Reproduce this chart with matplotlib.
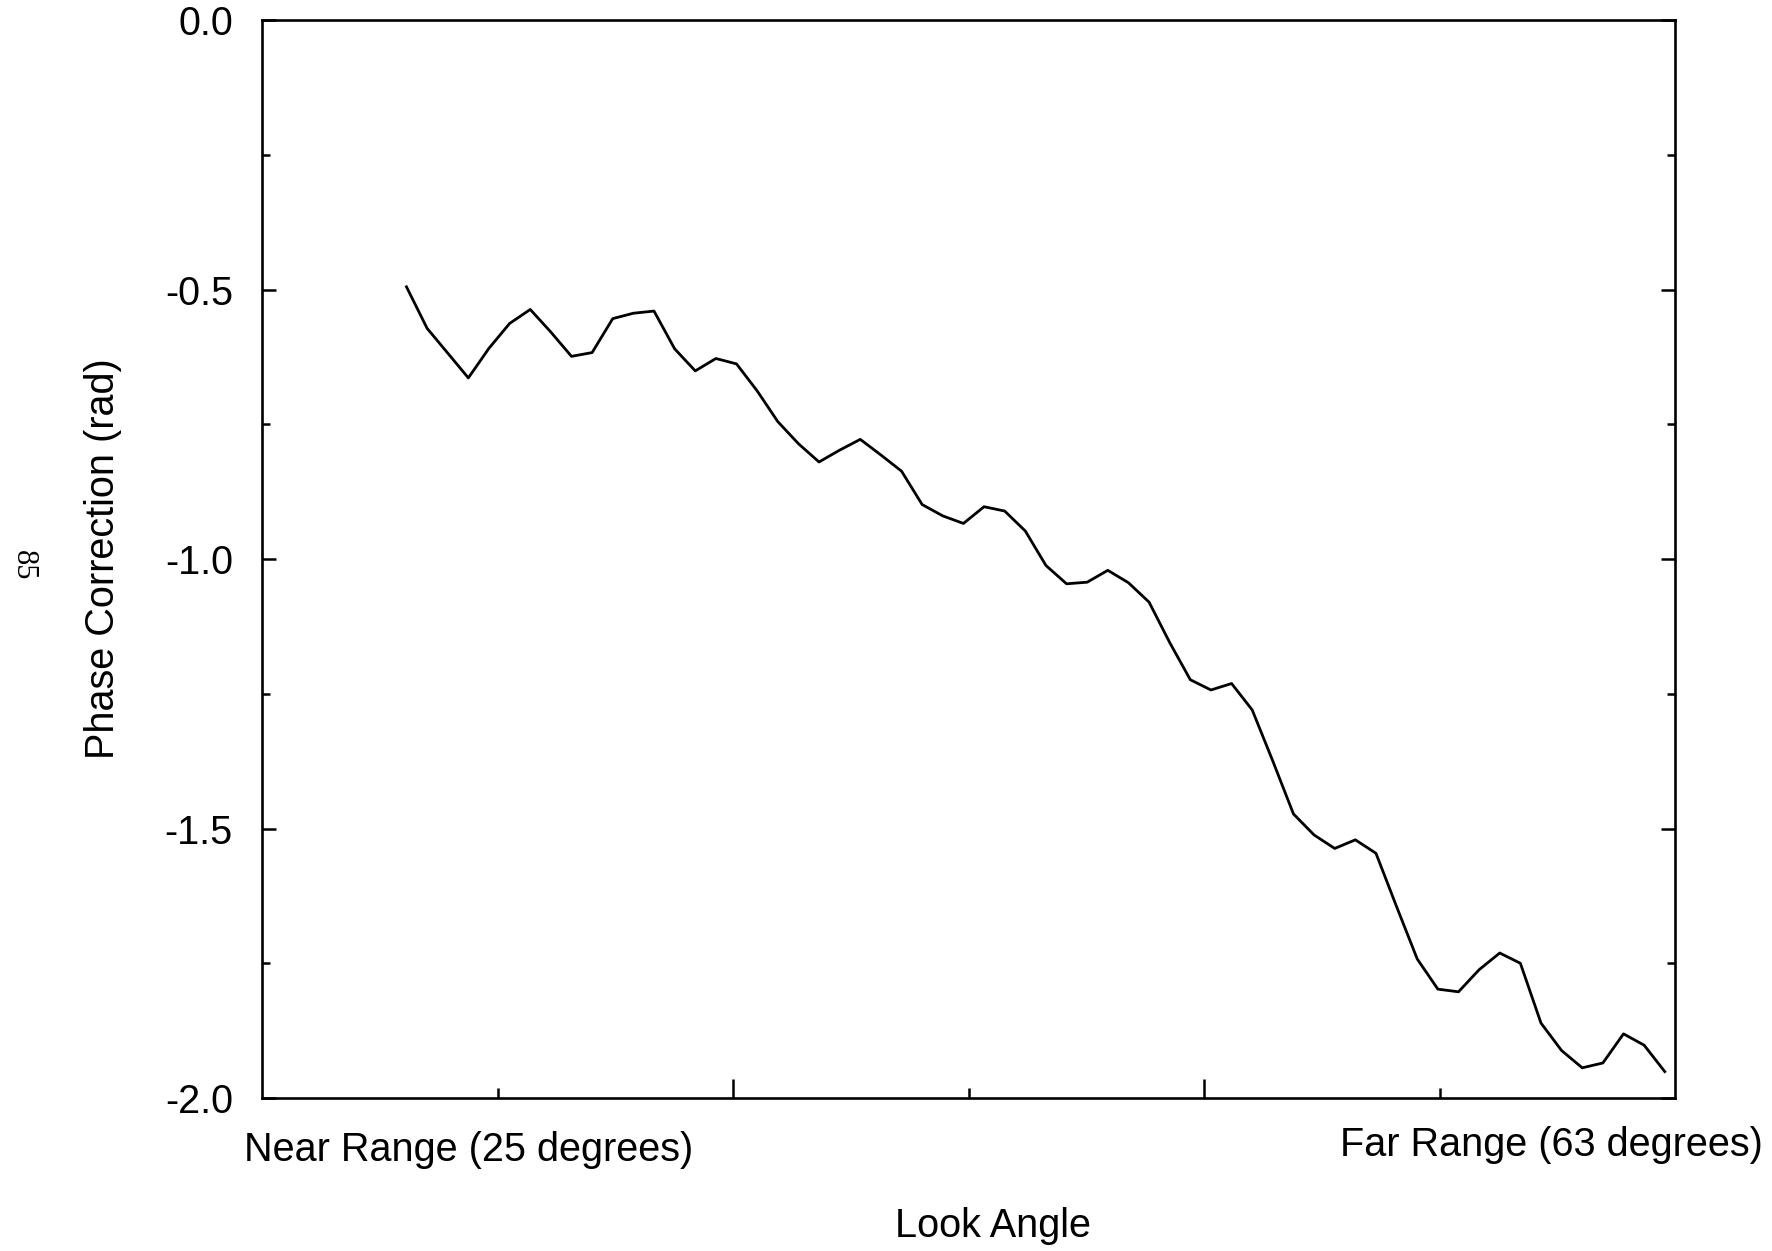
import numpy as np
import matplotlib.pyplot as plt
from matplotlib.ticker import FixedLocator, NullFormatter

plt.rcParams['font.family'] = ['Liberation Sans', 'DejaVu Sans']
plt.rcParams['axes.unicode_minus'] = False

# phase correction per range sample, near range first
phase_rad = [
    -0.495, -0.572, -0.618, -0.664, -0.609, -0.563, -0.537, -0.579,
    -0.624, -0.617, -0.554, -0.544, -0.540, -0.610, -0.651, -0.628,
    -0.638, -0.688, -0.745, -0.786, -0.820, -0.798, -0.778, -0.807,
    -0.837, -0.899, -0.920, -0.934, -0.903, -0.911, -0.948, -1.012,
    -1.046, -1.043, -1.021, -1.044, -1.080, -1.155, -1.224, -1.243,
    -1.231, -1.280, -1.375, -1.473, -1.512, -1.537, -1.521, -1.546,
    -1.645, -1.742, -1.798, -1.803, -1.762, -1.731, -1.750, -1.861,
    -1.912, -1.944, -1.935, -1.881, -1.902, -1.951,
]

y_major = [0.0, -0.5, -1.0, -1.5, -2.0]
y_labels = ['0.0', '-0.5', '-1.0', '-1.5', '-2.0']
y_minor = [-0.25, -0.75, -1.25, -1.75]

near_label = 'Near Range (25 degrees)'
far_label = 'Far Range (63 degrees)'

# swath edges in sample units (samples start a bit inside near range)
x_lo, x_hi = -7.0, 61.5

fig = plt.figure(figsize=(17.72, 12.51), dpi=100)
ax = fig.add_axes([0.1479, 0.1223, 0.7974, 0.8617])

ax.plot(phase_rad, color='black', lw=2.0)

ax.set_xlim(x_lo, x_hi)
ax.set_ylim(-2.0, 0.0)

# look angle axis split in sixths, long ticks on every third
div = np.linspace(x_lo, x_hi, 7)[1:-1]
ax.xaxis.set_major_locator(FixedLocator(div[1::2]))
ax.xaxis.set_minor_locator(FixedLocator(div[0::2]))
ax.xaxis.set_major_formatter(NullFormatter())

ax.yaxis.set_major_locator(FixedLocator(y_major))
ax.yaxis.set_minor_locator(FixedLocator(y_minor))
ax.set_yticklabels(y_labels)

ax.tick_params(axis='y', which='both', direction='in', left=True, right=True,
               width=1.8, labelsize=28.5, pad=21)
ax.tick_params(axis='y', which='major', length=10)
ax.tick_params(axis='y', which='minor', length=6)
ax.tick_params(axis='x', which='both', direction='in', bottom=True, top=False,
               width=1.8)
ax.tick_params(axis='x', which='major', length=14)
ax.tick_params(axis='x', which='minor', length=7)

for s in ax.spines.values():
    s.set_linewidth(1.9)

ax.set_ylabel('Phase Correction (rad)', fontsize=28.5)
ax.yaxis.set_label_coords(-0.099, 0.5)

ax.text(-0.013, -0.048, near_label, transform=ax.transAxes, fontsize=28.5,
        ha='left', va='center')
ax.text(1.062, -0.044, far_label, transform=ax.transAxes, fontsize=28.5,
        ha='right', va='center')
ax.text(0.517, -0.119, 'Look Angle', transform=ax.transAxes, fontsize=28.5,
        ha='center', va='center')

# page number of the printed sheet
fig.text(0.013, 0.548, '85', rotation=-90, fontsize=22, ha='center', va='center',
         family=['Liberation Serif', 'DejaVu Serif'])

fig.savefig('out.png', dpi=100, facecolor='white')
